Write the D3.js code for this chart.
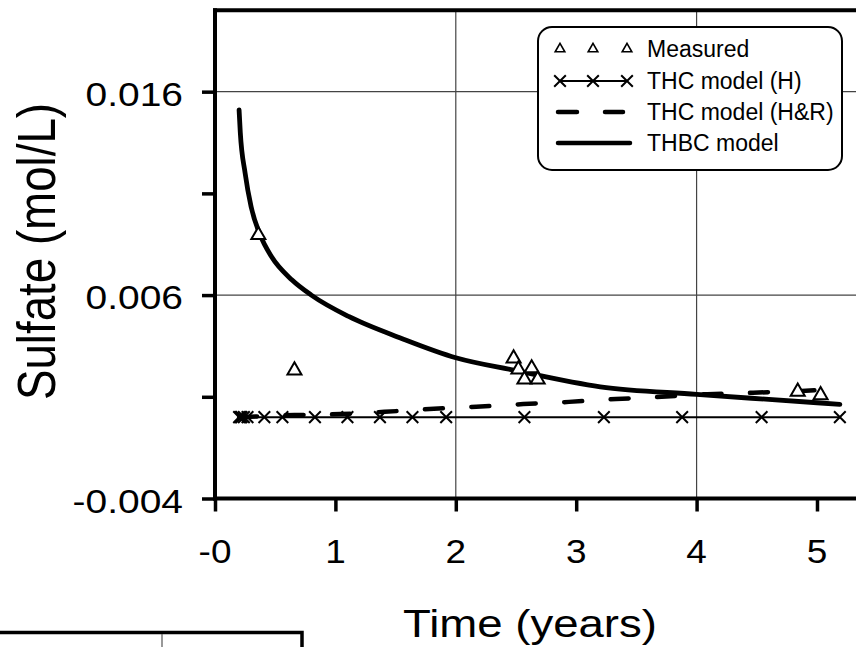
<!DOCTYPE html>
<html>
<head>
<meta charset="utf-8">
<script src="https://cdn.jsdelivr.net/npm/d3@7"></script>
<style>
  body { margin: 0; background: #fff; }
  svg { display: block; font-family: "Liberation Sans", Arial, sans-serif; }
</style>
</head>
<body>
<svg id="chart" width="856" height="647"></svg>
<script>
// ===== Sulfate vs time: measured points and three model curves =====

// measured concentrations
const measuredT = [0.36, 0.66, 2.48, 2.52, 2.63, 2.57, 2.68, 4.84, 5.03];
const measuredSO4 = [0.00895, 0.0023, 0.00289, 0.00235, 0.0024, 0.00185, 0.00185, 0.00125, 0.00108];

// THC model (H) - flat at zero
const thcHT = [0.2, 0.21, 0.22, 0.24, 0.27, 0.41, 0.56, 0.83, 1.1, 1.37, 1.64, 1.92, 2.57, 3.23, 3.88, 4.54, 5.19];
const thcHSO4 = [0, 0, 0, 0, 0, 0, 0, 0, 0, 0, 0, 0, 0, 0, 0, 0, 0];

// THC model (H&R) - slow rise
const thcHRT = [0.2, 0.66, 1.04, 1.41, 1.78, 2.17, 2.56, 2.94, 3.33, 3.71, 4.09, 4.47, 4.87, 5.19];
const thcHRSO4 = [0.0, 0.0001, 0.00015, 0.00026, 0.0004, 0.00051, 0.00064, 0.00075, 0.00089, 0.001, 0.00113, 0.0012, 0.00129, 0.00138];

// THBC model - decay
const thbcT = [0.2, 0.21, 0.25, 0.3, 0.37, 0.47, 0.64, 0.8, 1.11, 1.55, 2.0, 2.48, 3.2, 4.0, 4.6, 5.19];
const thbcSO4 = [0.0151, 0.014, 0.012, 0.01034, 0.00903, 0.00788, 0.00674, 0.006, 0.00495, 0.00387, 0.00292, 0.00231, 0.00149, 0.00112, 0.00087, 0.00063];

// axis ticks
const xTicks = [0, 1, 2, 3, 4, 5];
const xTickLabels = ["-0", "1", "2", "3", "4", "5"];
const yTicks = [0.016, 0.011, 0.006, 0.001, -0.004];
const yTickLabels = ["0.016", "", "0.006", "", "-0.004"];
const xGrid = [2, 4];
const yGrid = [0.016, 0.006];

const legendItems = ["Measured", "THC model (H)", "THC model (H&R)", "THBC model"];

const svg = d3.select("#chart");
const x = d3.scaleLinear().domain([0, 5.324]).range([215, 856]);
const y = d3.scaleLinear().domain([-0.004, 0.02]).range([498.5, 10.3]);

const zip = (a, b) => a.map((v, i) => [v, b[i]]);

// gridlines
svg.append("g").selectAll("line").data(xGrid).join("line")
    .attr("x1", d => x(d)).attr("x2", d => x(d))
    .attr("y1", y(-0.004)).attr("y2", y(0.02))
    .attr("stroke", "#444").attr("stroke-width", 1.2);
svg.append("g").selectAll("line").data(yGrid).join("line")
    .attr("x1", x(0)).attr("x2", 856)
    .attr("y1", d => y(d)).attr("y2", d => y(d))
    .attr("stroke", "#444").attr("stroke-width", 1.2);

// axes (ticks only, labels drawn below)
const xAxis = svg.append("g").attr("transform", `translate(0,${y(-0.004)})`)
    .call(d3.axisBottom(x).tickValues(xTicks).tickSize(13).tickFormat(""));
const yAxis = svg.append("g").attr("transform", `translate(${x(0)},0)`)
    .call(d3.axisLeft(y).tickValues(yTicks).tickSize(13).tickFormat(""));
[xAxis, yAxis].forEach(a => {
    a.select(".domain").remove();
    a.selectAll(".tick line").attr("stroke", "#000").attr("stroke-width", 3.5);
});

// frame lines: left axis, bottom axis, top border
svg.append("line").attr("x1", x(0)).attr("x2", x(0)).attr("y1", y(0.02) - 2).attr("y2", y(-0.004) + 2)
    .attr("stroke", "#000").attr("stroke-width", 4);
svg.append("line").attr("x1", x(0) - 2).attr("x2", 856).attr("y1", y(-0.004)).attr("y2", y(-0.004))
    .attr("stroke", "#000").attr("stroke-width", 4);
svg.append("line").attr("x1", x(0) - 2).attr("x2", 856).attr("y1", y(0.02)).attr("y2", y(0.02))
    .attr("stroke", "#000").attr("stroke-width", 4);

// tick labels, a little wider than the plain font like the original
svg.append("g").selectAll("text").data(xTicks).join("text")
    .attr("transform", d => `translate(${x(d)},563) scale(1.12,1)`)
    .attr("text-anchor", "middle").attr("font-size", 33)
    .text((d, i) => xTickLabels[i]);
svg.append("g").selectAll("text").data(yTicks).join("text")
    .attr("transform", d => `translate(183,${y(d) + 14}) scale(1.18,1)`)
    .attr("text-anchor", "end").attr("font-size", 33)
    .text((d, i) => yTickLabels[i]);

// axis titles
svg.append("text").attr("x", 403).attr("y", 637)
    .attr("font-size", 38).attr("textLength", 254).attr("lengthAdjust", "spacingAndGlyphs")
    .text("Time (years)");
svg.append("text").attr("transform", "translate(55,400) rotate(-90)")
    .attr("font-size", 54).attr("textLength", 297).attr("lengthAdjust", "spacingAndGlyphs")
    .text("Sulfate (mol/L)");

// series
const line = d3.line().x(d => x(d[0])).y(d => y(d[1]));
const smooth = d3.line().x(d => x(d[0])).y(d => y(d[1])).curve(d3.curveMonotoneX);

svg.append("path").datum(zip(thcHT, thcHSO4)).attr("d", line)
    .attr("fill", "none").attr("stroke", "#000").attr("stroke-width", 2);
svg.append("path").datum(zip(thcHRT, thcHRSO4)).attr("d", smooth)
    .attr("fill", "none").attr("stroke", "#000").attr("stroke-width", 4.5)
    .attr("stroke-dasharray", "18,28.5").attr("stroke-linecap", "round");
svg.append("path").datum(zip(thbcT, thbcSO4)).attr("d", smooth)
    .attr("fill", "none").attr("stroke", "#000").attr("stroke-width", 4.8)
    .attr("stroke-linecap", "round");

const cross = d3.symbol().type(d3.symbolX).size(90);
svg.append("g").selectAll("path").data(zip(thcHT, thcHSO4)).join("path")
    .attr("transform", d => `translate(${x(d[0])},${y(d[1])})`)
    .attr("d", cross).attr("fill", "none").attr("stroke", "#000").attr("stroke-width", 2);

const tri = d3.symbol().type(d3.symbolTriangle).size(85);
svg.append("g").selectAll("path").data(zip(measuredT, measuredSO4)).join("path")
    .attr("transform", d => `translate(${x(d[0])},${y(d[1])})`)
    .attr("d", tri).attr("fill", "#fff").attr("stroke", "#000").attr("stroke-width", 2);

// partial frame of the next chart, cut by the page edge
svg.append("path").attr("d", "M0,632.5H302V647").attr("fill", "none")
    .attr("stroke", "#000").attr("stroke-width", 3.5);
svg.append("line").attr("x1", 162).attr("x2", 162).attr("y1", 634).attr("y2", 647)
    .attr("stroke", "#555").attr("stroke-width", 1.2);

// legend
const lg = svg.append("g");
lg.append("rect").attr("x", 538).attr("y", 27).attr("width", 304).attr("height", 143)
    .attr("rx", 14).attr("fill", "#fff").attr("stroke", "#000").attr("stroke-width", 2);
const rowY = [49, 81, 112, 143];
lg.selectAll("text").data(legendItems).join("text")
    .attr("x", 647).attr("y", (d, i) => rowY[i] + 8)
    .attr("font-size", 23).text(d => d);
const symX = [560, 593, 627];
const smallTri = d3.symbol().type(d3.symbolTriangle).size(40);
lg.append("g").selectAll("path").data(symX).join("path")
    .attr("transform", d => `translate(${d},${rowY[0]})`)
    .attr("d", smallTri).attr("fill", "#fff").attr("stroke", "#000").attr("stroke-width", 1.6);
lg.append("line").attr("x1", 560).attr("x2", 627).attr("y1", rowY[1]).attr("y2", rowY[1])
    .attr("stroke", "#000").attr("stroke-width", 2);
lg.append("g").selectAll("path").data(symX).join("path")
    .attr("transform", d => `translate(${d},${rowY[1]})`)
    .attr("d", cross).attr("fill", "none").attr("stroke", "#000").attr("stroke-width", 2);
lg.append("path").attr("d", `M558,${rowY[2]}H577M605,${rowY[2]}H623`)
    .attr("stroke", "#000").attr("stroke-width", 4.5).attr("stroke-linecap", "round");
lg.append("line").attr("x1", 558).attr("x2", 630).attr("y1", rowY[3]).attr("y2", rowY[3])
    .attr("stroke", "#000").attr("stroke-width", 4.5).attr("stroke-linecap", "round");
</script>
</body>
</html>
